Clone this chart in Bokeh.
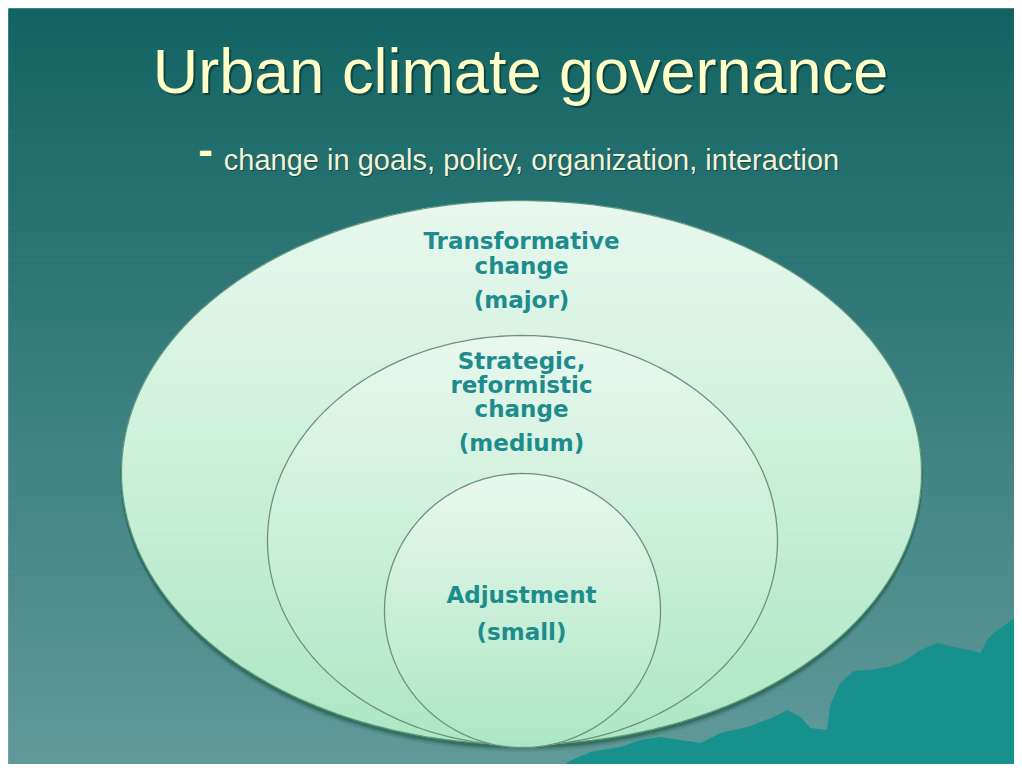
import numpy as np
from bokeh.plotting import figure
from bokeh.models import Range1d
from bokeh.core.properties import value
from bokeh.embed import file_html
from bokeh.resources import INLINE

# ---- content ----
TITLE = "Urban climate governance"
BULLET = "-"
SUBTITLE = "change in goals, policy, organization, interaction"
LEVEL_LINES = [
    ["Transformative", "change"],
    ["Strategic,", "reformistic", "change"],
    ["Adjustment"],
]
LEVEL_SIZES = ["(major)", "(medium)", "(small)"]

# ---- layout (picture pixel coordinates) ----
X0, X1, Y0, Y1 = 8, 1014, 8, 764

p = figure(width=1014, height=764, x_range=Range1d(X0, X1), y_range=Range1d(Y1, Y0),
           output_backend="svg", toolbar_location=None,
           min_border_left=8, min_border_top=8, min_border_right=0, min_border_bottom=0)
p.axis.visible = False
p.grid.visible = False
p.outline_line_color = None
p.background_fill_color = "#13696a"
p.border_fill_color = "white"


def lerp(c0, c1, t):
    return "#%02x%02x%02x" % tuple(int(round(a + (b - a) * t)) for a, b in zip(c0, c1))


# background vertical gradient
n = 120
ys = np.linspace(Y0, 772, n + 1)
cols = [lerp((18, 100, 99), (98, 154, 154), (i + 0.5) / n) for i in range(n)]
p.quad(left=X0, right=1022, top=ys[:-1], bottom=ys[1:], fill_color=cols,
       line_color=cols, line_width=1)

# mountain silhouette bottom right
mx = [560, 567, 590, 620, 640, 660, 680, 700, 720, 747, 773, 787, 800, 810, 827,
      830, 840, 853, 870, 887, 900, 910, 920, 937, 953, 970, 980, 987, 993, 1007, 1022, 1022]
my = [772, 762, 752, 747, 740, 737, 740, 743, 733, 727, 717, 710, 717, 728, 730,
      705, 683, 671, 670, 667, 663, 657, 650, 643, 647, 650, 653, 640, 633, 623, 613, 772]
p.patch(mx, my, fill_color="#17918e", line_color="#17918e", line_width=1)


def ell_pts(cx, cy, a, b, m=240):
    t = np.linspace(0, 2 * np.pi, m)
    return cx + a * np.cos(t), cy + b * np.sin(t)


def grad_ellipse(cx, cy, a, b, top=(233, 248, 239), bot=(172, 231, 196), nb=70):
    edges = np.linspace(cy - b, cy + b, nb + 1)
    xs_all, ys_all, cs = [], [], []
    for i in range(nb):
        yy = np.linspace(edges[i], edges[i + 1] + 0.8, 5)
        yy = np.clip(yy, cy - b, cy + b)
        dx = a * np.sqrt(np.clip(1 - ((yy - cy) / b) ** 2, 0, 1))
        xs_all.append(list(cx - dx) + list((cx + dx)[::-1]))
        ys_all.append(list(yy) + list(yy[::-1]))
        cs.append(lerp(top, bot, (i + 0.5) / nb))
    p.patches(xs_all, ys_all, fill_color=cs, line_color=cs, line_width=0.6)


# outer ellipse with shadow
for off, alpha in [(6, 0.15), (4, 0.25), (2.5, 0.45)]:
    sx, sy = ell_pts(521, 472 + off, 401, 273)
    p.patch(sx, sy, fill_color="#1f5a48", fill_alpha=alpha, line_color=None)
grad_ellipse(521, 472, 400, 272)
ox, oy = ell_pts(521, 472, 400, 272)
p.line(ox, oy, line_color="#4f8a6a", line_width=1.2, line_alpha=0.8)

# middle ellipse
grad_ellipse(522, 540, 255, 205)
mx2, my2 = ell_pts(522, 540, 255, 205)
p.line(mx2, my2, line_color="#6f917c", line_width=1.3)

# inner circle
grad_ellipse(522, 610, 138, 137)
ix, iy = ell_pts(522, 610, 138, 137)
p.line(ix, iy, line_color="#6f917c", line_width=1.3)

# ---- texts ----
FONT_T = value("Liberation Sans")
p.text(x=[522], y=[72], text=[TITLE], text_font=FONT_T, text_font_size="63px",
       text_color="#0b3533", text_alpha=0.7, text_align="center", text_baseline="middle")
p.text(x=[520], y=[70], text=[TITLE], text_font=FONT_T, text_font_size="63px",
       text_color="#ffffc8", text_align="center", text_baseline="middle")

p.text(x=[205], y=[149], text=[BULLET], text_font=FONT_T, text_font_size="44px",
       text_font_style="bold", text_color="#ffffc8", text_align="center", text_baseline="middle")
p.text(x=[532], y=[160], text=[SUBTITLE], text_font=FONT_T, text_font_size="29px",
       text_color="#0b3533", text_alpha=0.7, text_align="center", text_baseline="middle")
p.text(x=[531], y=[159], text=[SUBTITLE], text_font=FONT_T, text_font_size="29px",
       text_color="#f2f2d8", text_align="center", text_baseline="middle")

FONT_L = value("DejaVu Sans")
line_y = [[240, 265], [360, 384, 408], [594]]
size_y = [299, 442, 631]
for lines, ly, sz, syy in zip(LEVEL_LINES, line_y, LEVEL_SIZES, size_y):
    p.text(x=[521] * len(lines), y=ly, text=lines, text_font=FONT_L, text_font_size="23px",
           text_font_style="bold", text_color="#1e8c8c", text_align="center", text_baseline="middle")
    p.text(x=[521], y=[syy], text=[sz], text_font=FONT_L, text_font_size="23px",
           text_font_style="bold", text_color="#1e8c8c", text_align="center", text_baseline="middle")

open("out.html", "w").write(file_html(p, INLINE))
